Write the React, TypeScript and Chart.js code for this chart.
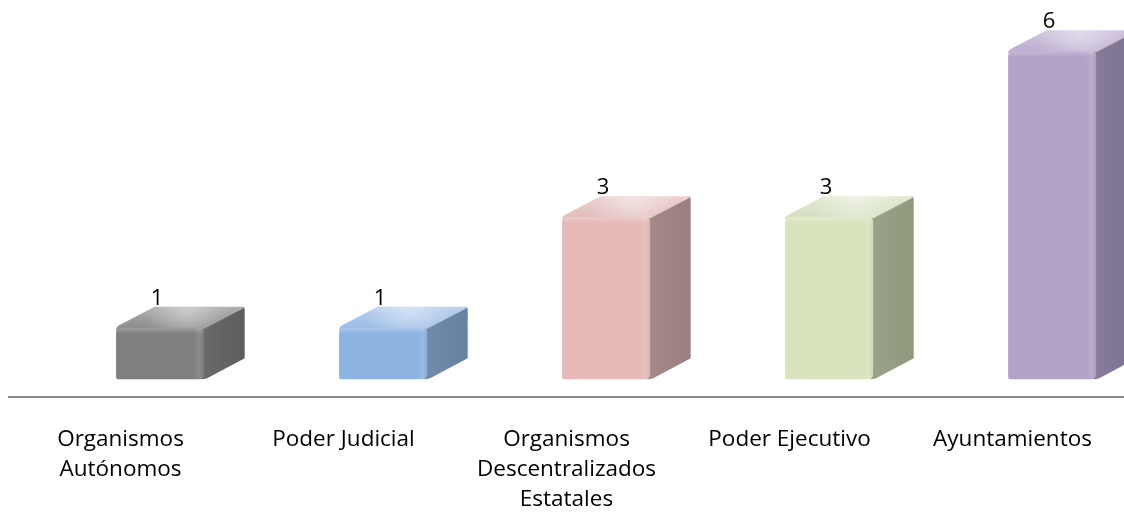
import React, { useEffect, useRef } from "react";
import { Chart, registerables } from "chart.js";

Chart.register(...registerables);

const categories: (string | string[])[] = [
  ["Organismos", "Autónomos"],
  "Poder Judicial",
  ["Organismos", "Descentralizados", "Estatales"],
  "Poder Ejecutivo",
  "Ayuntamientos",
];
const values: number[] = [1, 1, 3, 3, 6];
const frontColors = ["#7f7f7f", "#8db3e2", "#e6b9b8", "#d7e4bd", "#b3a2c7"];
const sideColors = ["#5d5d5d", "#6781a3", "#9b7f7e", "#8f9a7d", "#7c7090"];
const topColors = ["#8c8c8c", "#9cbde6", "#e2bebd", "#d6dfc0", "#bdaed1"];

const FONT = '"Open Sans", "DejaVu Sans", sans-serif';

function shade(hex: string, amt: number): string {
  const n = parseInt(hex.slice(1), 16);
  let r = (n >> 16) & 255, g = (n >> 8) & 255, b = n & 255;
  const f = (c: number) => Math.max(0, Math.min(255, Math.round(amt >= 0 ? c + (255 - c) * amt : c * (1 + amt))));
  r = f(r); g = f(g); b = f(b);
  return `rgb(${r},${g},${b})`;
}

const bars3d = {
  id: "bars3d",
  afterDatasetsDraw(chart: any) {
    const ctx: CanvasRenderingContext2D = chart.ctx;
    const meta = chart.getDatasetMeta(0);
    meta.data.forEach((el: any, i: number) => {
      const w = el.width;
      const left = el.x - w * 0.05;
      const right = left + w;
      const topY = el.y;
      const baseY = el.base - 4;
      const dx = w * 0.46;
      const dy = 21;
      const r = 5;
      ctx.save();
      // side face
      const sg = ctx.createLinearGradient(right, 0, right + dx, 0);
      sg.addColorStop(0, shade(sideColors[i], 0.08));
      sg.addColorStop(1, sideColors[i]);
      ctx.fillStyle = sg;
      ctx.beginPath();
      ctx.moveTo(right - 2, topY);
      ctx.lineTo(right + dx - 3, topY - dy);
      ctx.quadraticCurveTo(right + dx, topY - dy, right + dx, topY - dy + 3);
      ctx.lineTo(right + dx, baseY - dy);
      ctx.lineTo(right + 3, baseY - 1);
      ctx.quadraticCurveTo(right, baseY, right - 3, baseY);
      ctx.closePath();
      ctx.fill();
      // top face
      const tg = ctx.createLinearGradient(0, topY, 0, topY - dy);
      tg.addColorStop(0, topColors[i]);
      tg.addColorStop(1, shade(topColors[i], 0.3));
      ctx.fillStyle = tg;
      ctx.beginPath();
      ctx.moveTo(left, topY + 2);
      ctx.quadraticCurveTo(left, topY - 1, left + 4, topY - 3);
      ctx.lineTo(left + dx - 2, topY - dy);
      ctx.lineTo(right + dx - 3, topY - dy);
      ctx.quadraticCurveTo(right + dx, topY - dy, right + dx - 2, topY - dy + 2);
      ctx.lineTo(right, topY + 1);
      ctx.closePath();
      ctx.fill();
      // highlight on top
      const hg = ctx.createRadialGradient(left + dx + w * 0.35, topY - dy + 2, 1, left + dx + w * 0.35, topY - dy + 2, w * 0.5);
      hg.addColorStop(0, "rgba(255,255,255,0.4)");
      hg.addColorStop(1, "rgba(255,255,255,0)");
      ctx.fillStyle = hg;
      ctx.fill();
      // front face
      const fg = ctx.createLinearGradient(left, 0, right, 0);
      fg.addColorStop(0, frontColors[i]);
      fg.addColorStop(0.88, frontColors[i]);
      fg.addColorStop(0.95, shade(frontColors[i], 0.1));
      fg.addColorStop(1, shade(frontColors[i], -0.05));
      ctx.fillStyle = fg;
      ctx.beginPath();
      ctx.moveTo(left + r, topY);
      ctx.lineTo(right - r, topY);
      ctx.quadraticCurveTo(right, topY, right, topY + r);
      ctx.lineTo(right, baseY - r);
      ctx.quadraticCurveTo(right, baseY, right - r, baseY);
      ctx.lineTo(left + 2, baseY);
      ctx.quadraticCurveTo(left, baseY, left, baseY - 2);
      ctx.lineTo(left, topY + r);
      ctx.quadraticCurveTo(left, topY, left + r, topY);
      ctx.closePath();
      ctx.fill();
      const eg = ctx.createLinearGradient(0, topY, 0, topY + 6);
      eg.addColorStop(0, "rgba(255,255,255,0.25)");
      eg.addColorStop(1, "rgba(255,255,255,0)");
      ctx.fillStyle = eg;
      ctx.fill();
      // value label
      ctx.fillStyle = "#000";
      ctx.font = `22px ${FONT}`;
      ctx.textAlign = "center";
      ctx.textBaseline = "alphabetic";
      ctx.fillText(String(values[i]), left + w / 2 - 3, topY - dy - 2);
      ctx.restore();
    });
  },
};

export default function App() {
  const ref = useRef<HTMLCanvasElement>(null);
  useEffect(() => {
    if (!ref.current) return;
    const chart = new Chart(ref.current, {
      type: "bar",
      data: {
        labels: categories,
        datasets: [
          {
            data: values,
            backgroundColor: "rgba(0,0,0,0)",
            borderWidth: 0,
            barPercentage: 0.395,
            categoryPercentage: 1,
          },
        ],
      },
      options: {
        animation: false,
        responsive: true,
        maintainAspectRatio: false,
        layout: { padding: { left: 9, right: 0, top: 23.5, bottom: 0 } },
        plugins: { legend: { display: false }, tooltip: { enabled: false } },
        scales: {
          y: { display: false, min: -0.25, max: 6.5 },
          x: {
            afterFit: (scale: any) => {
              scale.height = 120;
            },
            grid: { display: false, drawTicks: false },
            border: { display: true, color: "#8a8a8a", width: 2 },
            ticks: {
              color: "#000",
              padding: 28,
              maxRotation: 0,
              autoSkip: false,
              font: { family: FONT, size: 22.5, lineHeight: 1.33 },
            },
          },
        },
      },
      plugins: [bars3d],
    });
    return () => chart.destroy();
  }, []);
  return (
    <div style={{ position: "fixed", left: 0, top: 0, width: 1124, height: 517, background: "#fff" }}>
      <canvas ref={ref} />
    </div>
  );
}
